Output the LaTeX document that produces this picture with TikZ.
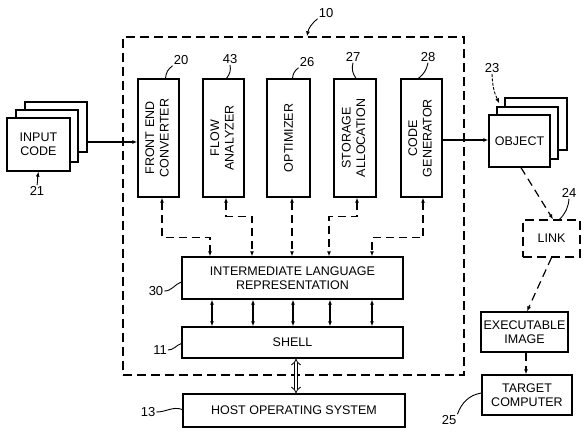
\documentclass[tikz,border=0pt]{standalone}
\usepackage{fontspec}
\setmainfont{Liberation Sans}
\usepackage{graphicx}
\usetikzlibrary{arrows.meta}
\newcommand\dfont{\fontsize{12.5}{14.5}\selectfont}
\newcommand\vtext[2]{\rotatebox{90}{\begin{tabular}{@{}c@{}}#1\\#2\end{tabular}}}
\begin{document}
\begin{tikzpicture}[x=1pt,y=-1pt,
  >={Latex[length=5pt,width=4pt]},
  box/.style={draw, line width=1.4pt, fill=white, inner sep=1pt, align=center, font=\dfont,
    preaction={fill=black, transform canvas={shift={(1.3pt,-1.3pt)}}}},
  dbox/.style={draw, line width=1.3pt, dash pattern=on 9pt off 5pt, inner sep=1pt, align=center, font=\dfont},
  lab/.style={font=\fontsize{13}{14}\selectfont, inner sep=1pt},
  lead/.style={line width=0.9pt},
  dcon/.style={line width=1.2pt, dash pattern=on 8pt off 5pt},
  scon/.style={line width=1.2pt}
]
\useasboundingbox (0,0) rectangle (586,435);

% system dashed box
\node[dbox, minimum width=341pt, minimum height=338pt] (sys) at (293.5,206) {};
\node[lab] (l10) at (326,13) {10};
\draw[lead,->] (l10.south west) to[bend right=20] ([xshift=13.5pt]sys.north);

% vertical boxes
\node[box, minimum width=41pt, minimum height=118pt] (fe) at (158.5,138) {\vtext{FRONT END}{CONVERTER}};
\node[box, minimum width=41pt, minimum height=118pt] (fa) at (223.5,138) {\vtext{FLOW}{ANALYZER}};
\node[box, minimum width=43pt, minimum height=118pt] (op) at (288.5,138) {\rotatebox{90}{OPTIMIZER}};
\node[box, minimum width=42pt, minimum height=118pt] (sa) at (355,138) {\vtext{STORAGE}{ALLOCATION}};
\node[box, minimum width=41pt, minimum height=118pt] (cg) at (421.5,138) {\vtext{CODE}{GENERATOR}};

\node[lab] (l20) at (181,60) {20};
\node[lab] (l43) at (230,59) {43};
\node[lab] (l26) at (307,62) {26};
\node[lab] (l27) at (353,57) {27};
\node[lab] (l28) at (428,57) {28};
\draw[lead] (l20.south west) to[bend right=25] ([xshift=7pt]fe.north);
\draw[lead] (l43.south) to[bend left=25] ([xshift=3pt]fa.north);
\draw[lead] (l26.south west) to[bend right=25] ([xshift=4pt]op.north);
\draw[lead] (l27.south) to[bend right=25] ([xshift=1pt]sa.north);
\draw[lead] (l28.south) to[bend left=20] ([xshift=-3pt]cg.north);

% ILR, shell, host
\node[box, minimum width=221pt, minimum height=42pt] (ilr) at (292.5,278) {INTERMEDIATE LANGUAGE\\REPRESENTATION};
\node[box, minimum width=221pt, minimum height=31pt] (shell) at (292.5,342.5) {SHELL};
\node[box, minimum width=222pt, minimum height=33pt] (host) at (294,410.5) {HOST OPERATING SYSTEM};
\node[lab] (l30) at (156,291) {30};
\node[lab] (l11) at (160,350) {11};
\node[lab] (l13) at (148,412) {13};
\draw[lead] (l30.east) to[out=0,in=200] ([yshift=-4pt]ilr.west);
\draw[lead] (l11.east) to[out=0,in=200] ([yshift=-1pt]shell.west);
\draw[lead] (l13.east) to[out=0,in=160] ([yshift=1pt]host.west);

% dashed connectors phases -> ILR
\draw[dcon,<->] ([xshift=3.5pt]fe.south) -- ++(0,40) -| ([xshift=-82.5pt]ilr.north);
\draw[dcon,<->] ([xshift=2.5pt]fa.south) -- ++(0,19) -| ([xshift=-40.5pt]ilr.north);
\draw[dcon,<->] ([xshift=3.5pt]op.south) -- ([xshift=3.5pt]op.south |- ilr.north);
\draw[dcon,<->] ([xshift=2pt]sa.south) -- ++(0,19) -| ([xshift=36.5pt]ilr.north);
\draw[dcon,<->] ([xshift=1.5pt]cg.south) -- ++(0,40) -| ([xshift=79.5pt]ilr.north);

% ILR <-> shell
\foreach \dx in {-80.5,-39.5,0.5,37.5,79.5}
  \draw[scon,<->] ([xshift=\dx pt]ilr.south) -- ([xshift=\dx pt]shell.north);

% shell <-> host
\draw[double, double distance=2.6pt, line width=0.8pt, {Implies}-{Implies}] ([xshift=3.5pt]shell.south) -- ([xshift=2pt]host.north);

% input code stack
\node[box, minimum width=62pt, minimum height=50pt] (in3) at (56,127) {};
\node[box, minimum width=62pt, minimum height=52pt] (in2) at (47,136) {};
\node[box, minimum width=63pt, minimum height=53pt] (in1) at (38.5,144.5) {INPUT\\CODE};
\node[lab] (l21) at (37,191) {21};
\draw[lead,->] (l21.north) to[out=80,in=-100] (in1.south);
\draw[scon,->] ([yshift=-15pt]in3.east) -- ([yshift=-15pt]in3.east -| fe.west);

% object stack
\node[box, minimum width=62pt, minimum height=52pt] (ob3) at (536,124) {};
\node[box, minimum width=61pt, minimum height=52pt] (ob2) at (527.5,133) {};
\node[box, minimum width=61pt, minimum height=52pt] (ob1) at (519.5,141) {OBJECT};
\node[lab] (l23) at (492,68) {23};
\draw[lead,->,dash pattern=on 3pt off 1.5pt] (l23.south) to[bend right=12] ([xshift=-5pt,yshift=-6pt]ob3.north west);
\draw[scon,->] ([yshift=-2pt]cg.east) -- ([yshift=-2pt]cg.east -| ob1.west);

% link, executable, target
\node[dbox, minimum width=57pt, minimum height=37pt] (link) at (551.5,238.5) {LINK};
\node[lab] (l24) at (569,193) {24};
\draw[lead] (l24.south) to[bend left=20] ([xshift=8pt]link.north);
\node[box, minimum width=87pt, minimum height=40pt] (exec) at (524.5,332) {EXECUTABLE\\IMAGE};
\node[box, minimum width=90pt, minimum height=40pt] (tgt) at (527,395) {TARGET\\COMPUTER};
\node[lab] (l25) at (449,420) {25};
\draw[lead] (l25.north east) to[out=70,in=190] ([yshift=2pt]tgt.west);

\draw[dcon,->] ([xshift=1.5pt]ob1.south) -- ([xshift=1.5pt]link.north);
\draw[dcon,->] (link.south) -- ([xshift=2.5pt]exec.north);
\draw[dcon,->] ([xshift=1.5pt]exec.south) -- ([xshift=1.5pt]exec.south |- tgt.north);
\end{tikzpicture}
\end{document}
